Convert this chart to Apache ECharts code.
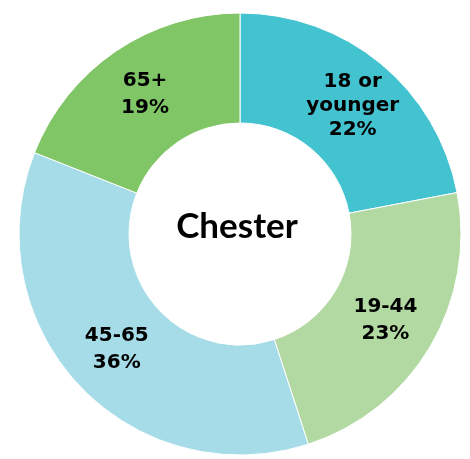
<!DOCTYPE html>
<html>
<head>
<meta charset="utf-8">
<script src="https://cdn.jsdelivr.net/npm/echarts@6/dist/echarts.min.js"></script>
<style>
  html, body { margin: 0; padding: 0; background: #fff; }
  #chart { width: 470px; height: 459px; }
</style>
</head>
<body>
<div id="chart"></div>
<script>
// Age groups for Chester, clockwise from 12 o'clock
const groups = ["18 or\nyounger", "19-44", "45-65", "65+"];
const shares = [22, 23, 36, 19];
const colors = ["#43c2d0", "#b2d9a1", "#a5dce8", "#80c566"];
const centerLabel = "Chester";

const chart = echarts.init(document.getElementById("chart"), null, { renderer: "canvas" });

const data = groups.map((name, i) => ({
  name,
  value: shares[i],
  itemStyle: { color: colors[i] },
  label: i === 0 ? { lineHeight: 24, offset: [5, 2] } : {},
}));

chart.setOption({
  animation: false,
  graphic: [
    {
      type: "text",
      x: 237,
      y: 227,
      style: {
        text: centerLabel,
        align: "center",
        verticalAlign: "middle",
        font: "bold 35px Lato",
        fill: "#000",
      },
    },
  ],
  series: [
    {
      type: "pie",
      center: [240, 234],
      radius: [111, 221],
      startAngle: 90,
      clockwise: true,
      avoidLabelOverlap: false,
      itemStyle: { borderColor: "#fff", borderWidth: 1 },
      label: {
        position: "inside",
        formatter: (p) => p.name + "\n" + p.value + "%",
        fontFamily: "DejaVu Sans",
        fontWeight: "bold",
        fontSize: 20,
        lineHeight: 27,
        color: "#000",
      },
      labelLine: { show: false },
      emphasis: { disabled: true },
      data,
    },
  ],
});
</script>
</body>
</html>
